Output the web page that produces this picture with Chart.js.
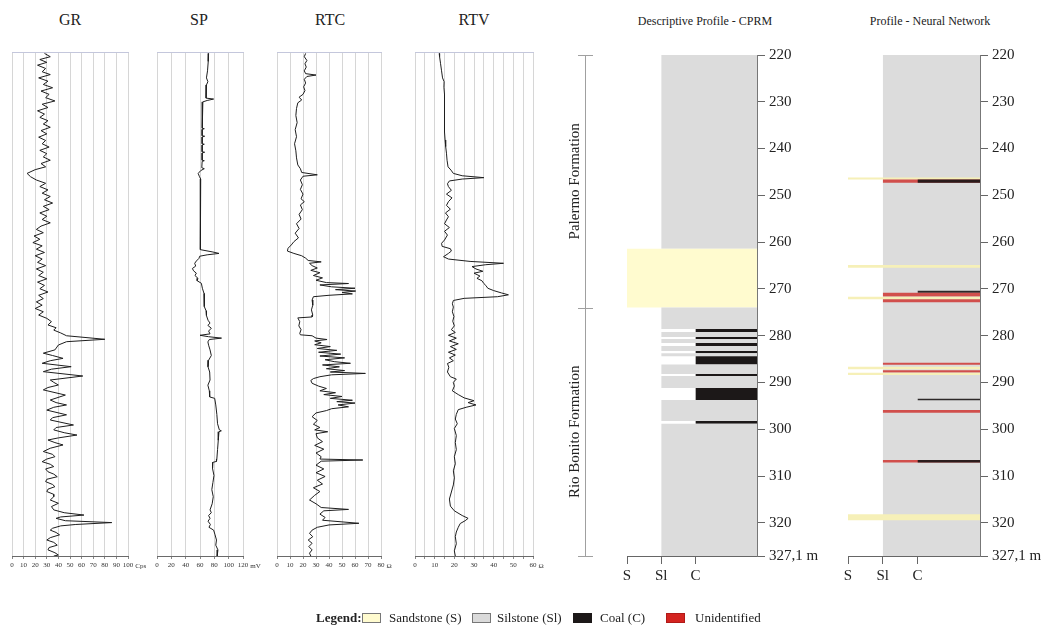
<!DOCTYPE html>
<html>
<head>
<meta charset="utf-8">
<title>Well logs and lithological profiles</title>
<script src="https://cdn.jsdelivr.net/npm/chart.js@4.4.1/dist/chart.umd.min.js"></script>
<style>
  html, body { margin: 0; padding: 0; background: #fff; }
  body { width: 1042px; height: 626px; position: relative; overflow: hidden;
         font-family: 'Liberation Serif', 'Times New Roman', serif; color: #222; }
  canvas { position: absolute; }
  .title { position: absolute; top: 11px; transform: translateX(-50%); white-space: nowrap; font-size: 16px; }
  .title.small { font-size: 12px; top: 14px; }
  .lg { position: absolute; top: 611px; font-size: 13px; line-height: 14px; white-space: nowrap; }
  .sw { position: absolute; top: 613px; width: 17px; height: 8px; border: 1px solid #777; }
</style>
</head>
<body>

<div class="title" style="left:70px">GR</div>
<div class="title" style="left:199px">SP</div>
<div class="title" style="left:330px">RTC</div>
<div class="title" style="left:474px">RTV</div>
<div class="title small" style="left:705px">Descriptive Profile - CPRM</div>
<div class="title small" style="left:930px">Profile - Neural Network</div>

<canvas id="gr" width="152" height="544" style="left:0px;top:42px"></canvas>
<canvas id="sp" width="122" height="544" style="left:145px;top:42px"></canvas>
<canvas id="rtc" width="140" height="544" style="left:265px;top:42px"></canvas>
<canvas id="rtv" width="154" height="544" style="left:403px;top:42px"></canvas>
<canvas id="cprm" width="277" height="544" style="left:555px;top:42px"></canvas>
<canvas id="nn" width="204" height="544" style="left:838px;top:42px"></canvas>

<b class="lg" style="left:316px">Legend:</b>
<span class="sw" style="left:362px;background:#fffbcf"></span>
<span class="lg" style="left:389px">Sandstone (S)</span>
<span class="sw" style="left:472px;background:#dadada"></span>
<span class="lg" style="left:497px">Silstone (Sl)</span>
<span class="sw" style="left:573px;background:#1c1818;border-color:#1c1818"></span>
<span class="lg" style="left:600px">Coal (C)</span>
<span class="sw" style="left:666px;background:#d42420;border-color:#b01a18"></span>
<span class="lg" style="left:695px">Unidentified</span>

<script>
// depth range of every track (m)
const depthMin = 220;
const depthMax = 327.1;
const depthTicks = [220, 230, 240, 250, 260, 270, 280, 290, 300, 310, 320, 327.1];
const depthTickLabels = ['220', '230', '240', '250', '260', '270', '280', '290', '300', '310', '320', '327,1 m'];

// grain-size classes on the profile x axis
const lithTicks = [1, 2, 3];
const lithTickLabels = ['S', 'Sl', 'C'];
const lithStart = { S: 1, Sl: 2, C: 3, U: 2 };
const lithAxisMax = 4.8;

// formations (depth top / base)
const formationNames = ['Palermo Formation', 'Rio Bonito Formation'];
const formationTop = [220, 274.0];
const formationBase = [274.0, 327.1];

// log curves: [depth m, value]
const grLog = [
  [220.3, 28], [221.0, 33], [221.6, 24], [222.2, 30], [222.8, 22], [223.5, 29], [224.2, 26], [224.8, 33],
  [225.5, 23], [226.2, 31], [226.9, 27], [227.6, 35], [228.3, 25], [229.0, 32], [229.7, 29], [230.4, 37],
  [231.1, 26], [231.8, 31], [232.5, 22], [233.2, 28], [233.9, 24], [234.6, 31], [235.3, 27], [236.0, 33],
  [236.7, 25], [237.4, 30], [238.1, 23], [238.8, 29], [239.5, 26], [240.2, 32], [240.9, 24], [241.6, 30],
  [242.3, 27], [243.0, 33], [243.7, 25], [244.4, 29], [245.0, 20], [245.8, 13], [246.5, 16], [247.2, 21],
  [247.9, 29], [248.6, 24], [249.3, 31], [250.0, 26], [250.7, 33], [251.4, 28], [252.1, 35], [252.8, 27],
  [253.5, 32], [254.2, 24], [254.9, 30], [255.6, 26], [256.3, 33], [257.0, 25], [257.7, 21], [258.4, 27],
  [259.1, 19], [259.8, 24], [260.5, 18], [261.2, 26], [261.9, 21], [262.6, 28], [263.3, 20], [264.0, 26],
  [264.7, 22], [265.4, 29], [266.1, 21], [266.8, 27], [267.5, 23], [268.2, 30], [268.9, 22], [269.6, 28],
  [270.3, 24], [271.0, 31], [271.7, 23], [272.4, 27], [273.1, 21], [273.8, 26], [274.5, 20], [275.2, 27],
  [275.9, 23], [276.6, 30], [277.3, 34], [278.0, 31], [278.6, 38], [279.1, 36], [279.7, 42], [280.3, 47],
  [281.05, 80], [281.56, 47], [282.26, 40], [283.3, 37], [284.0, 27], [284.5, 35], [285.1, 44], [285.6, 33],
  [286.15, 26], [286.87, 51], [287.4, 34], [287.93, 27], [288.85, 61], [289.7, 33], [290.2, 36], [290.76, 40],
  [291.3, 31], [291.8, 27], [292.9, 46], [293.95, 33], [294.5, 38], [295.0, 47], [295.5, 36], [296.1, 30],
  [297.1, 47], [297.7, 35], [298.2, 33], [299.26, 53], [299.8, 38], [300.3, 36], [300.9, 45], [301.4, 56],
  [302.0, 40], [302.45, 31], [303.0, 37], [303.5, 44], [304.2, 33], [304.9, 27], [305.5, 35], [306.0, 37],
  [306.5, 30], [307.06, 26], [307.6, 33], [308.1, 36], [308.6, 29], [309.2, 31], [309.7, 36], [310.25, 39],
  [310.8, 30], [311.3, 29], [311.9, 35], [312.37, 37], [312.9, 31], [313.4, 30], [314.0, 36], [314.5, 36],
  [315.2, 33], [315.9, 40], [316.6, 34], [317.3, 36], [317.9, 45], [318.4, 62], [318.8, 42], [319.1, 38],
  [319.6, 46], [320.0, 86], [320.4, 55], [320.7, 42], [321.2, 35], [321.6, 33], [322.1, 38], [322.6, 41],
  [323.2, 33], [323.7, 30], [324.2, 36], [324.8, 39], [325.3, 32], [325.8, 31], [326.4, 37], [326.9, 40],
  [327.1, 36]
];

const spLog = [
  [220.3, 72], [222.0, 71.5], [224.0, 70.5], [225.5, 69], [226.3, 71], [227.0, 69], [228.5, 68.5], [229.8, 68.5],
  [230.0, 79], [230.3, 70], [230.6, 64], [231.5, 63], [233.0, 63.5], [235.0, 63], [236.2, 63], [236.3, 66],
  [236.45, 63], [237.8, 63], [237.9, 66.5], [238.05, 63], [239.5, 63], [239.6, 66], [239.75, 63], [241.2, 63],
  [241.3, 66.5], [241.45, 63], [243.0, 63], [243.1, 66], [243.25, 63], [244.6, 62.5], [244.8, 66], [245.2, 61],
  [245.8, 57.5], [246.4, 59], [247.0, 61], [250.0, 61], [255.0, 60.5], [260.0, 60], [262.0, 60.5], [262.5, 78],
  [262.8, 86.5], [263.1, 70], [263.4, 59.5], [263.85, 58.6], [264.4, 55], [264.9, 52.6], [265.5, 54], [266.0, 49.4],
  [266.5, 51], [267.0, 54.9], [267.5, 53], [268.1, 57.2], [268.6, 56], [269.15, 61.9], [270.2, 63.3], [271.3, 65.6],
  [274.1, 66], [275.0, 68.5], [276.0, 69], [277.0, 71.2], [277.6, 74], [278.1, 71], [278.7, 75.8], [279.3, 72],
  [279.9, 74], [280.2, 60], [280.5, 72], [280.8, 90], [281.1, 73], [281.6, 71], [282.3, 72], [283.3, 74],
  [284.5, 75.8], [285.5, 72], [286.9, 71.2], [288.0, 73.5], [289.7, 74], [290.8, 71], [292.0, 73], [293.3, 73.5],
  [293.6, 80.5], [295.0, 82], [297.0, 83.5], [299.0, 84.5], [300.3, 87], [300.5, 89.8], [300.7, 86.5], [302.5, 85.5],
  [304.5, 84.5], [306.5, 83.5], [307.0, 83], [307.2, 78], [308.5, 77.5], [310.0, 79.5], [311.5, 78], [313.0, 76.5],
  [314.5, 78.5], [316.0, 77], [317.3, 74], [317.9, 75.8], [318.5, 72], [319.1, 74], [319.7, 71.2], [320.4, 74.5],
  [321.0, 72.5], [321.6, 79], [322.6, 81], [323.7, 83], [324.8, 82], [325.8, 85], [326.9, 84], [327.1, 84]
];

const rtcLog = [
  [220.3, 22], [221.0, 21], [221.8, 23], [222.5, 21.5], [223.2, 22.5], [224.0, 21], [224.6, 22], [224.9, 30],
  [225.2, 23], [225.8, 21], [226.6, 22], [227.4, 20.5], [228.2, 21.5], [229.0, 20], [229.6, 17], [230.2, 19],
  [230.8, 16], [232.0, 15], [233.5, 14.5], [235.0, 15.5], [236.5, 14], [238.0, 15], [239.5, 13.5], [241.0, 14.5],
  [242.5, 15], [244.0, 16], [244.8, 18], [245.6, 19], [246.1, 31], [246.4, 20], [247.2, 18], [248.2, 19.5],
  [249.2, 18], [250.2, 20], [251.2, 18.5], [251.8, 21], [252.5, 18], [253.5, 19.5], [254.5, 17], [255.5, 18.5],
  [256.5, 15], [257.5, 17], [258.5, 14], [259.5, 16.5], [260.3, 13], [261.0, 11], [261.7, 8.5], [262.3, 8],
  [262.8, 13], [263.3, 19], [263.8, 22], [264.3, 24], [264.6, 34], [264.9, 25], [265.4, 27], [265.9, 31],
  [266.4, 26], [266.9, 33], [267.5, 28], [268.0, 35], [268.5, 30], [269.0, 38], [269.2, 55], [269.5, 33],
  [269.9, 42], [270.2, 60], [270.5, 45], [270.8, 60.5], [271.1, 50], [271.4, 58], [271.7, 40], [272.0, 28],
  [272.7, 27], [273.8, 27.5], [274.8, 26.5], [275.9, 27.5], [276.3, 27], [276.5, 16], [277.3, 17.5], [278.2, 16.8],
  [279.0, 18.5], [279.8, 17.5], [280.1, 18], [280.3, 27], [280.8, 30], [281.1, 38.5], [281.4, 29], [281.8, 34],
  [282.2, 29], [282.6, 41], [283.0, 31], [283.4, 46], [283.8, 32], [284.2, 49], [284.6, 33], [285.0, 52],
  [285.4, 37], [285.8, 44], [286.15, 56.5], [286.5, 35], [286.9, 48], [287.3, 38], [287.7, 52], [288.0, 41],
  [288.3, 68], [288.6, 42], [289.0, 33], [289.4, 28], [289.8, 26], [290.4, 27], [291.0, 32], [291.5, 38],
  [292.0, 33], [292.4, 45], [292.8, 36], [293.2, 50], [293.6, 41], [294.0, 58], [294.3, 46], [294.6, 60],
  [295.0, 47], [295.4, 55], [295.8, 42], [296.2, 38], [296.7, 30], [297.5, 27], [298.3, 31], [299.1, 28],
  [299.8, 33], [300.3, 29], [300.7, 39], [301.1, 30], [302.0, 31], [302.8, 35], [303.6, 29], [304.4, 36],
  [305.2, 30], [306.0, 34], [306.5, 33], [306.7, 66], [306.95, 34], [307.8, 30], [308.6, 36], [309.4, 30],
  [310.2, 37], [311.0, 31], [311.8, 35], [312.6, 28], [313.4, 33], [314.2, 29], [315.2, 25], [316.0, 30],
  [316.8, 34], [317.2, 55], [317.5, 36], [318.2, 33], [318.9, 37], [319.5, 35], [320.15, 63], [320.5, 40],
  [321.0, 31], [321.6, 27], [322.3, 25], [323.0, 27.5], [323.7, 24], [324.4, 27], [325.1, 24.5], [325.8, 27],
  [326.5, 25], [327.1, 26]
];

const rtvLog = [
  [220.3, 12.3], [221.0, 12.5], [222.5, 13], [224.0, 13.5], [225.5, 14], [226.3, 14.8], [227.5, 14.7], [229.0, 15],
  [231.0, 14.8], [233.0, 15], [235.0, 15.2], [237.0, 15], [238.7, 15.3], [240.1, 15.6], [241.5, 16], [243.0, 16.3],
  [244.4, 16.8], [245.1, 18.3], [245.8, 19.5], [246.3, 24], [246.7, 35], [247.0, 24], [247.4, 17.5], [248.0, 16.5],
  [248.6, 17], [249.4, 18.5], [250.2, 16], [251.0, 18.8], [251.8, 17], [252.6, 16], [253.4, 18], [254.2, 15.5],
  [255.0, 17], [255.7, 16], [256.5, 15], [257.3, 17.5], [258.1, 15], [258.9, 16.5], [259.95, 15], [260.65, 13.5],
  [261.3, 13.8], [261.8, 18], [262.3, 18.5], [262.8, 17], [263.5, 14.5], [264.0, 17], [264.5, 28], [264.9, 45],
  [265.2, 36], [265.6, 29], [266.1, 31], [266.6, 34.5], [267.0, 30], [267.6, 33], [268.1, 31.5], [268.6, 34],
  [269.2, 35], [269.6, 36], [270.2, 37], [270.7, 40], [271.2, 44], [271.6, 47.5], [272.0, 42], [272.35, 25],
  [272.8, 19.5], [273.5, 19], [274.2, 19.5], [275.2, 19], [276.2, 19.8], [277.2, 19.2], [278.2, 20], [279.0, 18.5],
  [279.6, 20.5], [280.2, 17], [280.8, 21], [281.4, 17.5], [282.0, 22], [282.6, 18], [283.2, 21], [283.8, 17],
  [284.4, 20.5], [285.0, 17.5], [285.6, 19.5], [286.2, 16.5], [287.0, 17.2], [288.0, 16.5], [289.0, 18], [289.5, 21],
  [290.2, 19.5], [291.0, 20], [292.0, 19], [292.8, 22], [293.5, 25], [294.1, 30], [294.5, 27], [295.0, 31],
  [295.5, 26], [296.0, 22], [297.0, 21], [298.0, 20.5], [299.0, 21.5], [300.0, 20], [301.5, 21], [303.0, 20.5],
  [304.5, 21], [306.0, 20], [307.5, 20.5], [309.0, 19.5], [310.5, 20], [312.0, 19.5], [313.5, 18.5], [315.0, 17.5],
  [316.5, 18], [317.5, 20], [318.5, 24], [319.1, 27], [319.6, 25.5], [320.2, 23], [321.0, 22], [322.0, 21],
  [323.0, 20.5], [324.5, 21], [326.0, 20], [327.1, 20.5]
];

// lithology intervals: [top m, base m, class]
const cprmLayers = [
  [220.0, 261.4, 'Sl'], [261.4, 274.0, 'S'], [274.0, 278.6, 'Sl'], [278.6, 279.2, 'C'],
  [279.2, 280.3, 'Sl'], [280.3, 280.7, 'C'], [280.7, 281.55, 'Sl'], [281.55, 282.2, 'C'],
  [282.2, 283.3, 'Sl'], [283.3, 283.75, 'C'], [283.75, 284.4, 'Sl'], [284.4, 286.15, 'C'],
  [286.15, 288.2, 'Sl'], [288.2, 288.6, 'C'], [288.6, 291.2, 'Sl'], [291.2, 293.75, 'C'],
  [293.75, 298.25, 'Sl'], [298.25, 298.85, 'C'], [298.85, 327.1, 'Sl']
];

const nnLayers = [
  [220.0, 327.1, 'Sl'],
  [246.2, 246.6, 'S'], [246.6, 247.3, 'U'], [246.6, 247.3, 'C'],
  [264.9, 265.5, 'S'],
  [270.4, 270.85, 'C'], [270.85, 271.65, 'U'], [271.7, 272.2, 'S'], [272.2, 272.85, 'U'],
  [285.8, 286.2, 'U'], [286.65, 287.2, 'S'], [287.4, 287.85, 'U'], [287.9, 288.4, 'S'],
  [293.5, 293.8, 'C'], [295.9, 296.5, 'U'],
  [306.6, 307.1, 'U'], [306.6, 307.1, 'C'],
  [318.2, 319.45, 'S']
];

const cprmColors = { S: '#fffbcf', Sl: '#dcdcdc', C: '#1c1818', U: '#d42420' };
const nnColors = { S: '#f6f0b8', Sl: '#dcdcdc', C: 'rgba(28,24,24,0.92)', U: 'rgba(206,40,36,0.78)' };

Chart.defaults.font.family = "'Liberation Serif', 'Times New Roman', serif";
Chart.defaults.color = '#222';
Chart.defaults.animation = false;

const toPoints = pairs => pairs.map(([d, v]) => ({ x: v, y: d }));

// unit text written after the last tick label of a log track
const unitLabel = {
  id: 'unitLabel',
  afterDraw(chart, args, opts) {
    if (!opts.text) return;
    const sx = chart.scales.x;
    const ctx = chart.ctx;
    ctx.save();
    ctx.font = "7px 'Liberation Serif'";
    ctx.fillStyle = '#333';
    ctx.textAlign = 'left';
    ctx.textBaseline = 'middle';
    const half = ctx.measureText(String(sx.max)).width / 2;
    ctx.fillText(opts.text, sx.right + half + 2, sx.top + 3 + 2 + 5);
    ctx.restore();
  }
};

// formation bracket left of the descriptive profile
const formationBracket = {
  id: 'formationBracket',
  afterDraw(chart) {
    const { ctx, chartArea, scales: { y } } = chart;
    const x = chartArea.left - 42;
    ctx.save();
    ctx.strokeStyle = '#a0a0a0';
    ctx.lineWidth = 1;
    ctx.beginPath();
    ctx.moveTo(x + 0.5, y.getPixelForValue(formationTop[0]));
    ctx.lineTo(x + 0.5, y.getPixelForValue(formationBase[formationBase.length - 1]));
    [formationTop[0], ...formationBase].forEach(d => {
      const py = Math.round(y.getPixelForValue(d)) + 0.5;
      ctx.moveTo(x - 7, py);
      ctx.lineTo(x + 8, py);
    });
    ctx.stroke();
    ctx.fillStyle = '#222';
    ctx.font = "15px 'Liberation Serif'";
    ctx.textAlign = 'center';
    ctx.textBaseline = 'middle';
    formationNames.forEach((name, i) => {
      const mid = (y.getPixelForValue(formationTop[i]) + y.getPixelForValue(formationBase[i])) / 2;
      ctx.save();
      ctx.translate(x - 10, mid);
      ctx.rotate(-Math.PI / 2);
      ctx.fillText(name, 0, 0);
      ctx.restore();
    });
    ctx.restore();
  }
};

function logChart(id, pairs, max, step, labelStep, unit) {
  return new Chart(document.getElementById(id), {
    type: 'scatter',
    data: {
      datasets: [{
        data: toPoints(pairs),
        showLine: true,
        borderColor: '#1e1e1e',
        borderWidth: 1,
        pointRadius: 0,
        tension: 0
      }]
    },
    options: {
      responsive: false,
      layout: { padding: { left: 12, right: 24, top: 10, bottom: 0 } },
      plugins: { legend: { display: false }, tooltip: { enabled: false }, unitLabel: { text: unit } },
      scales: {
        x: {
          type: 'linear', position: 'bottom', min: 0, max,
          ticks: {
            stepSize: step, autoSkip: false, maxRotation: 0, padding: 2,
            font: { size: 7 }, color: '#333',
            callback: v => (v % labelStep === 0 ? String(v) : '')
          },
          grid: { color: '#d6d6d6', lineWidth: 1, tickLength: 3, tickColor: '#888' },
          border: { color: '#6a6a6a' },
          afterFit(s) { s.height = 30; }
        },
        xTop: {
          type: 'linear', position: 'top', min: 0, max,
          ticks: { display: false },
          grid: { display: false },
          border: { color: '#c4c7dc' },
          afterFit(s) { s.height = 0; }
        },
        y: { type: 'linear', min: depthMin, max: depthMax, reverse: true, display: false }
      }
    },
    plugins: [unitLabel]
  });
}

function profileChart(id, layers, colors, padLeft, axisWidth, extraPlugins) {
  const datasets = layers.map(([top, base, lith], i) => ({
    data: [{ x: lithStart[lith], y: top }, { x: lithAxisMax, y: top }],
    showLine: true,
    pointRadius: 0,
    borderWidth: 0,
    borderColor: 'rgba(0,0,0,0)',
    backgroundColor: colors[lith],
    fill: { value: base },
    order: layers.length - i
  }));
  return new Chart(document.getElementById(id), {
    type: 'scatter',
    data: { datasets },
    options: {
      responsive: false,
      layout: { padding: { left: padLeft, right: 0, top: 10, bottom: 0 } },
      plugins: { legend: { display: false }, tooltip: { enabled: false } },
      scales: {
        x: {
          type: 'linear', min: 1, max: lithAxisMax,
          afterBuildTicks(s) { s.ticks = lithTicks.map(v => ({ value: v })); },
          ticks: { autoSkip: false, maxRotation: 0, padding: 3, font: { size: 15 }, color: '#222',
                   callback: (v, i) => lithTickLabels[i] },
          grid: { drawOnChartArea: false, tickLength: 8, color: '#666' },
          border: { color: '#666' },
          afterFit(s) { s.height = 30; }
        },
        y: {
          type: 'linear', position: 'right', min: depthMin, max: depthMax, reverse: true,
          afterBuildTicks(s) { s.ticks = depthTicks.map(v => ({ value: v })); },
          ticks: { autoSkip: false, padding: 4, font: { size: 15 }, color: '#222',
                   callback: (v, i) => depthTickLabels[i] },
          grid: { drawOnChartArea: false, tickLength: 8, color: '#666' },
          border: { color: '#777' },
          afterFit(s) { s.width = axisWidth; }
        }
      }
    },
    plugins: extraPlugins
  });
}

logChart('gr', grLog, 100, 10, 10, 'Cps');
logChart('sp', spLog, 120, 20, 20, 'mV');
logChart('rtc', rtcLog, 80, 10, 10, 'Ω');
logChart('rtv', rtvLog, 60, 5, 10, 'Ω');
profileChart('cprm', cprmLayers, cprmColors, 72, 75, [formationBracket]);
profileChart('nn', nnLayers, nnColors, 10, 62, []);
</script>
</body>
</html>
